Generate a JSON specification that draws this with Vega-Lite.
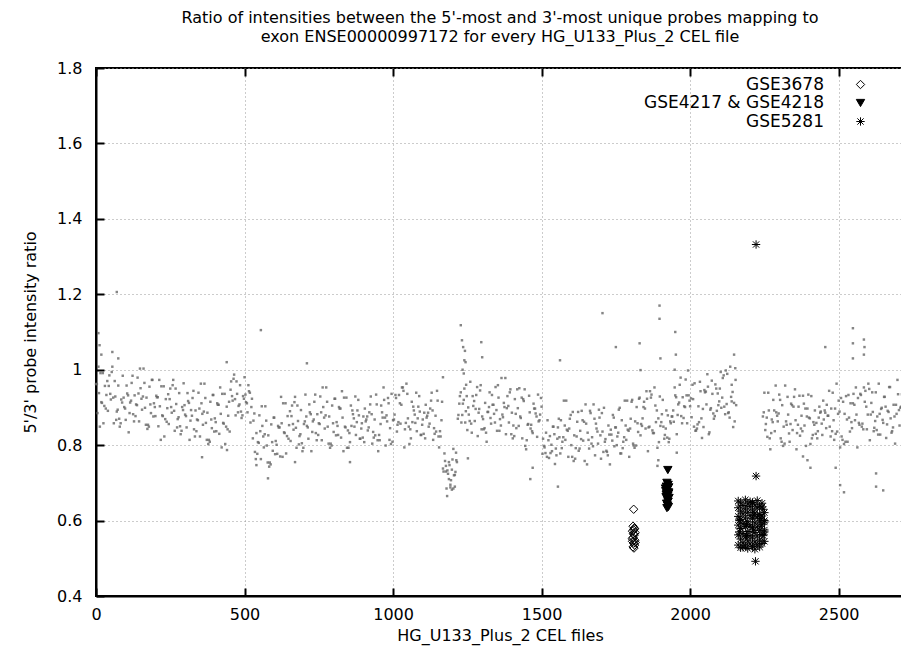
{
"$schema":"https://vega.github.io/schema/vega-lite/v6.json",
"width":808,"height":528,"autosize":"none",
"padding":{"left":96,"top":68,"right":0,"bottom":53},
"background":"white",
"title":{"text":["Ratio of intensities between the 5'-most and 3'-most unique probes mapping to","exon ENSE00000997172 for every HG_U133_Plus_2 CEL file"],"font":"DejaVu Sans","fontSize":16,"fontWeight":"normal","color":"black","anchor":"middle","offset":15,"lineHeight":19},
"datasets":{
"bg":[
{"x":0,"y":0.962},{"x":5,"y":0.885},{"x":10,"y":0.938},{"x":15,"y":0.991},{"x":20,"y":0.912},{"x":25,"y":0.858},{"x":30,"y":0.957},{"x":35,"y":0.933},{"x":40,"y":0.891},{"x":45,"y":0.985},{"x":50,"y":0.921},{"x":55,"y":1.008},
{"x":60,"y":0.858},{"x":65,"y":0.929},{"x":70,"y":0.889},{"x":75,"y":0.958},{"x":80,"y":0.849},{"x":85,"y":0.921},{"x":90,"y":0.984},{"x":95,"y":0.901},{"x":100,"y":0.867},{"x":105,"y":0.937},{"x":110,"y":0.834},{"x":115,"y":0.913},{"x":120,"y":0.965},{"x":125,"y":0.882},{"x":130,"y":0.932},{"x":135,"y":0.908},{"x":140,"y":0.979},{"x":145,"y":0.863},{"x":150,"y":0.951},{"x":155,"y":0.894},{"x":160,"y":1.003},{"x":165,"y":0.899},{"x":170,"y":0.926},{"x":175,"y":0.854},{"x":180,"y":0.955},{"x":185,"y":0.885},{"x":190,"y":0.973},{"x":195,"y":0.911},{"x":200,"y":0.877},
{"x":205,"y":0.927},{"x":210,"y":0.85},{"x":215,"y":0.903},{"x":220,"y":0.956},{"x":225,"y":0.877},{"x":230,"y":0.823},{"x":235,"y":0.922},{"x":240,"y":0.898},{"x":245,"y":0.856},{"x":250,"y":0.95},{"x":255,"y":0.886},{"x":260,"y":0.973},{"x":265,"y":0.838},{"x":270,"y":0.909},{"x":275,"y":0.869},{"x":280,"y":0.938},{"x":285,"y":0.829},{"x":290,"y":0.901},{"x":295,"y":0.964},{"x":300,"y":0.881},{"x":305,"y":0.847},{"x":310,"y":0.917},{"x":315,"y":0.814},{"x":320,"y":0.893},
{"x":325,"y":0.925},{"x":330,"y":0.842},{"x":335,"y":0.892},{"x":340,"y":0.868},{"x":345,"y":0.939},{"x":350,"y":0.823},{"x":355,"y":0.911},{"x":360,"y":0.854},{"x":365,"y":0.963},{"x":370,"y":0.859},{"x":375,"y":0.886},{"x":380,"y":0.814},{"x":385,"y":0.915},{"x":390,"y":0.845},{"x":395,"y":0.933},{"x":400,"y":0.871},{"x":405,"y":0.837},{"x":410,"y":0.907},{"x":415,"y":0.83},{"x":420,"y":0.883},{"x":425,"y":0.936},{"x":430,"y":0.857},{"x":435,"y":0.803},{"x":440,"y":0.902},{"x":445,"y":0.878},{"x":450,"y":0.836},
{"x":455,"y":0.969},{"x":460,"y":0.918},{"x":465,"y":0.987},{"x":470,"y":0.879},{"x":475,"y":0.936},{"x":480,"y":0.904},{"x":485,"y":0.959},{"x":490,"y":0.872},{"x":495,"y":0.93},{"x":500,"y":0.98},{"x":505,"y":0.914},{"x":510,"y":0.887},{"x":515,"y":0.943},{"x":520,"y":0.86},{"x":525,"y":0.923},
{"x":530,"y":0.865},{"x":535,"y":0.782},{"x":540,"y":0.832},{"x":545,"y":0.808},{"x":550,"y":0.879},{"x":555,"y":0.763},{"x":560,"y":0.851},{"x":565,"y":0.794},{"x":570,"y":0.903},{"x":575,"y":0.799},{"x":580,"y":0.826},{"x":585,"y":0.754},{"x":590,"y":0.855},{"x":595,"y":0.785},{"x":600,"y":0.873},{"x":605,"y":0.811},{"x":610,"y":0.777},{"x":615,"y":0.847},{"x":620,"y":0.77},
{"x":625,"y":0.858},{"x":630,"y":0.911},{"x":635,"y":0.832},{"x":640,"y":0.778},{"x":645,"y":0.877},{"x":650,"y":0.853},{"x":655,"y":0.811},{"x":660,"y":0.905},{"x":665,"y":0.841},{"x":670,"y":0.928},{"x":675,"y":0.793},{"x":680,"y":0.864},{"x":685,"y":0.824},{"x":690,"y":0.893},{"x":695,"y":0.784},{"x":700,"y":0.856},
{"x":705,"y":0.934},{"x":710,"y":0.851},{"x":715,"y":0.817},{"x":720,"y":0.887},{"x":725,"y":0.784},{"x":730,"y":0.863},{"x":735,"y":0.915},{"x":740,"y":0.832},{"x":745,"y":0.882},{"x":750,"y":0.858},{"x":755,"y":0.929},{"x":760,"y":0.813},{"x":765,"y":0.901},{"x":770,"y":0.844},{"x":775,"y":0.953},{"x":780,"y":0.849},{"x":785,"y":0.876},{"x":790,"y":0.804},{"x":795,"y":0.905},{"x":800,"y":0.835},{"x":805,"y":0.923},{"x":810,"y":0.861},{"x":815,"y":0.827},{"x":820,"y":0.897},{"x":825,"y":0.82},{"x":830,"y":0.873},{"x":835,"y":0.926},{"x":840,"y":0.847},{"x":845,"y":0.793},
{"x":850,"y":0.793},{"x":855,"y":0.808},{"x":860,"y":0.851},{"x":865,"y":0.882},{"x":870,"y":0.849},{"x":875,"y":0.827},{"x":880,"y":0.892},{"x":885,"y":0.879},{"x":890,"y":0.817},{"x":895,"y":0.858},{"x":900,"y":0.876},{"x":905,"y":0.897},{"x":910,"y":0.868},{"x":915,"y":0.839},{"x":920,"y":0.887},{"x":925,"y":0.929},{"x":930,"y":0.804},{"x":935,"y":0.82},{"x":940,"y":0.826},{"x":945,"y":0.908},{"x":950,"y":0.784},{"x":955,"y":0.813},{"x":960,"y":0.905},{"x":965,"y":0.873},{"x":970,"y":0.92},{"x":975,"y":0.799},{"x":980,"y":0.863},
{"x":985,"y":0.911},{"x":990,"y":0.845},{"x":995,"y":0.936},{"x":1000,"y":0.866},{"x":1005,"y":0.881},{"x":1010,"y":0.925},{"x":1015,"y":0.854},{"x":1020,"y":0.933},{"x":1025,"y":0.857},{"x":1030,"y":0.953},{"x":1035,"y":0.944},{"x":1040,"y":0.842},{"x":1045,"y":0.963},{"x":1050,"y":0.871},{"x":1055,"y":0.803},{"x":1060,"y":0.818},{"x":1065,"y":0.861},{"x":1070,"y":0.892},{"x":1075,"y":0.859},{"x":1080,"y":0.837},{"x":1085,"y":0.902},{"x":1090,"y":0.889},{"x":1095,"y":0.827},{"x":1100,"y":0.868},{"x":1105,"y":0.886},{"x":1110,"y":0.907},{"x":1115,"y":0.878},{"x":1120,"y":0.849},{"x":1125,"y":0.897},{"x":1130,"y":0.939},{"x":1135,"y":0.814},{"x":1140,"y":0.83},{"x":1145,"y":0.836},{"x":1150,"y":0.918},{"x":1155,"y":0.794},{"x":1160,"y":0.823},{"x":1165,"y":0.915},
{"x":1170,"y":0.73},{"x":1175,"y":0.758},{"x":1180,"y":0.685},{"x":1185,"y":0.724},{"x":1190,"y":0.747},{"x":1195,"y":0.707},{"x":1200,"y":0.762},{"x":1205,"y":0.72},{"x":1210,"y":0.729},{"x":1215,"y":0.755},{"x":1182,"y":0.665},{"x":1193,"y":0.695},{"x":1203,"y":0.79},{"x":1188,"y":0.71},{"x":1198,"y":0.735},{"x":1208,"y":0.69},{"x":1212,"y":0.78},{"x":1178,"y":0.745},
{"x":1220,"y":0.88},{"x":1225,"y":0.93},{"x":1230,"y":0.86},{"x":1235,"y":0.91},{"x":1240,"y":0.95},{"x":1245,"y":0.89},{"x":1250,"y":0.84},{"x":1228,"y":1.118},{"x":1232,"y":1.078},{"x":1236,"y":1.06},{"x":1240,"y":1.025},{"x":1244,"y":1.02},{"x":1238,"y":0.99},{"x":1246,"y":0.96},{"x":1252,"y":0.765},{"x":1300,"y":1.033},{"x":1297,"y":1.073},
{"x":1255,"y":0.881},{"x":1260,"y":0.968},{"x":1265,"y":0.833},{"x":1270,"y":0.904},{"x":1275,"y":0.864},{"x":1280,"y":0.933},{"x":1285,"y":0.824},{"x":1290,"y":0.896},{"x":1295,"y":0.959},{"x":1300,"y":0.876},{"x":1305,"y":0.842},{"x":1310,"y":0.912},{"x":1315,"y":0.809},{"x":1320,"y":0.888},{"x":1325,"y":0.94},{"x":1330,"y":0.857},{"x":1335,"y":0.907},{"x":1340,"y":0.883},{"x":1345,"y":0.954},{"x":1350,"y":0.838},{"x":1355,"y":0.926},{"x":1360,"y":0.869},{"x":1365,"y":0.978},{"x":1370,"y":0.874},{"x":1375,"y":0.901},{"x":1380,"y":0.829},{"x":1385,"y":0.93},{"x":1390,"y":0.86},{"x":1395,"y":0.948},{"x":1400,"y":0.886},{"x":1405,"y":0.852},{"x":1410,"y":0.922},{"x":1415,"y":0.845},{"x":1420,"y":0.898},{"x":1425,"y":0.951},{"x":1430,"y":0.872},{"x":1435,"y":0.818},{"x":1440,"y":0.917},
{"x":1445,"y":0.798},{"x":1450,"y":0.813},{"x":1455,"y":0.856},{"x":1460,"y":0.887},{"x":1465,"y":0.854},{"x":1470,"y":0.832},{"x":1475,"y":0.897},{"x":1480,"y":0.884},{"x":1485,"y":0.822},{"x":1490,"y":0.863},{"x":1495,"y":0.881},{"x":1500,"y":0.902},{"x":1462,"y":0.71},{"x":1470,"y":0.74},
{"x":1505,"y":0.817},{"x":1510,"y":0.794},{"x":1515,"y":0.833},{"x":1520,"y":0.866},{"x":1525,"y":0.766},{"x":1530,"y":0.779},{"x":1535,"y":0.784},{"x":1540,"y":0.849},{"x":1545,"y":0.75},{"x":1550,"y":0.773},{"x":1555,"y":0.847},{"x":1560,"y":0.821},
{"x":1565,"y":0.866},{"x":1570,"y":0.809},{"x":1575,"y":0.918},{"x":1580,"y":0.814},{"x":1585,"y":0.841},{"x":1590,"y":0.769},{"x":1595,"y":0.87},{"x":1600,"y":0.8},{"x":1605,"y":0.888},{"x":1610,"y":0.826},{"x":1615,"y":0.792},{"x":1620,"y":0.862},{"x":1625,"y":0.785},{"x":1630,"y":0.838},{"x":1635,"y":0.891},{"x":1640,"y":0.812},{"x":1645,"y":0.758},{"x":1650,"y":0.857},{"x":1655,"y":0.833},{"x":1660,"y":0.791},{"x":1665,"y":0.885},{"x":1670,"y":0.821},{"x":1675,"y":0.908},{"x":1680,"y":0.773},{"x":1685,"y":0.844},{"x":1690,"y":0.804},{"x":1695,"y":0.873},{"x":1700,"y":0.764},{"x":1705,"y":0.836},{"x":1710,"y":0.899},{"x":1715,"y":0.816},{"x":1720,"y":0.782},{"x":1725,"y":0.852},{"x":1730,"y":0.749},{"x":1735,"y":0.828},{"x":1740,"y":0.88},{"x":1745,"y":0.797},{"x":1750,"y":0.847},{"x":1755,"y":0.823},{"x":1760,"y":0.894},{"x":1765,"y":0.778},{"x":1770,"y":0.866},{"x":1775,"y":0.809},{"x":1780,"y":0.918},{"x":1785,"y":0.814},{"x":1790,"y":0.841},{"x":1795,"y":0.769},{"x":1800,"y":0.87},
{"x":1805,"y":0.92},{"x":1810,"y":0.799},{"x":1815,"y":0.863},{"x":1820,"y":0.901},{"x":1825,"y":0.835},{"x":1830,"y":0.926},{"x":1835,"y":0.856},{"x":1840,"y":0.871},{"x":1845,"y":0.915},{"x":1850,"y":0.844},{"x":1855,"y":0.923},{"x":1860,"y":0.847},{"x":1865,"y":0.943},{"x":1870,"y":0.934},{"x":1875,"y":0.832},{"x":1880,"y":0.953},{"x":1885,"y":0.861},{"x":1890,"y":0.793},{"x":1895,"y":0.808},{"x":1900,"y":0.851},{"x":1905,"y":0.882},{"x":1910,"y":0.849},{"x":1915,"y":0.827},{"x":1920,"y":0.892},{"x":1925,"y":0.879},{"x":1930,"y":0.817},{"x":1935,"y":0.858},{"x":1940,"y":0.876},
{"x":1830,"y":1.07},{"x":1897,"y":1.17},{"x":1897,"y":1.135},{"x":1900,"y":1.03},{"x":1833,"y":0.999},{"x":1890,"y":0.745},{"x":1893,"y":0.76},
{"x":1945,"y":0.862},{"x":1950,"y":0.932},{"x":1955,"y":0.829},{"x":1960,"y":0.908},{"x":1965,"y":0.96},{"x":1970,"y":0.877},{"x":1975,"y":0.927},{"x":1980,"y":0.903},{"x":1985,"y":0.974},{"x":1990,"y":0.858},{"x":1950,"y":1.1},{"x":1952,"y":1.04},{"x":1948,"y":1.0},{"x":1955,"y":0.78},
{"x":1995,"y":0.932},{"x":2000,"y":0.903},{"x":2005,"y":0.874},{"x":2010,"y":0.922},{"x":2015,"y":0.964},{"x":2020,"y":0.839},{"x":2025,"y":0.855},{"x":2030,"y":0.861},{"x":2035,"y":0.943},{"x":2040,"y":0.819},{"x":2045,"y":0.848},{"x":2050,"y":0.94},{"x":2055,"y":0.908},{"x":2060,"y":0.955},{"x":2065,"y":0.834},{"x":2070,"y":0.898},{"x":2075,"y":0.936},{"x":2080,"y":0.87},{"x":2085,"y":0.961},{"x":2090,"y":0.891},{"x":2095,"y":0.906},{"x":2100,"y":0.95},{"x":2105,"y":0.899},{"x":2110,"y":0.978},{"x":2115,"y":0.902},{"x":2120,"y":0.998},{"x":2125,"y":0.989},{"x":2130,"y":0.887},{"x":2135,"y":1.008},{"x":2140,"y":0.916},{"x":2145,"y":0.848},{"x":2150,"y":0.863},{"x":2155,"y":0.906},{"x":2148,"y":1.04},{"x":2152,"y":1.004},{"x":2140,"y":0.96},
{"x":2245,"y":0.876},{"x":2250,"y":0.939},{"x":2255,"y":0.856},{"x":2260,"y":0.822},{"x":2265,"y":0.892},{"x":2270,"y":0.789},{"x":2275,"y":0.868},{"x":2280,"y":0.92},{"x":2285,"y":0.837},{"x":2290,"y":0.887},{"x":2295,"y":0.863},{"x":2300,"y":0.934},{"x":2305,"y":0.818},{"x":2310,"y":0.906},{"x":2315,"y":0.849},{"x":2320,"y":0.958},{"x":2325,"y":0.854},{"x":2330,"y":0.881},{"x":2335,"y":0.809},{"x":2340,"y":0.91},{"x":2345,"y":0.84},{"x":2350,"y":0.928},{"x":2355,"y":0.866},{"x":2360,"y":0.832},{"x":2365,"y":0.902},{"x":2370,"y":0.825},{"x":2375,"y":0.878},{"x":2380,"y":0.931},{"x":2385,"y":0.852},{"x":2390,"y":0.798},{"x":2395,"y":0.897},{"x":2400,"y":0.873},{"x":2405,"y":0.74},{"x":2395,"y":0.76},{"x":2380,"y":0.77},
{"x":2405,"y":0.803},{"x":2410,"y":0.818},{"x":2415,"y":0.861},{"x":2420,"y":0.892},{"x":2425,"y":0.859},{"x":2430,"y":0.837},{"x":2435,"y":0.902},{"x":2440,"y":0.889},{"x":2445,"y":0.827},{"x":2450,"y":0.868},{"x":2455,"y":0.886},{"x":2460,"y":0.907},{"x":2465,"y":0.878},{"x":2470,"y":0.849},{"x":2475,"y":0.897},{"x":2480,"y":0.939},{"x":2485,"y":0.814},{"x":2490,"y":0.83},{"x":2495,"y":0.836},{"x":2500,"y":0.918},{"x":2505,"y":0.794},{"x":2510,"y":0.823},{"x":2515,"y":0.915},{"x":2520,"y":0.883},{"x":2525,"y":0.93},{"x":2530,"y":0.809},{"x":2535,"y":0.873},{"x":2540,"y":0.911},{"x":2545,"y":0.845},{"x":2550,"y":0.936},{"x":2555,"y":0.866},{"x":2560,"y":0.881},{"x":2565,"y":0.925},{"x":2570,"y":0.854},{"x":2575,"y":0.933},{"x":2580,"y":0.857},{"x":2585,"y":0.953},{"x":2590,"y":0.944},{"x":2595,"y":0.842},{"x":2600,"y":0.963},
{"x":2455,"y":1.06},{"x":2505,"y":0.694},{"x":2518,"y":0.675},{"x":2490,"y":0.74},{"x":2548,"y":1.11},{"x":2548,"y":1.03},{"x":2548,"y":1.07},{"x":2585,"y":1.08},{"x":2585,"y":1.04},{"x":2587,"y":1.06},{"x":2626,"y":0.725},{"x":2626,"y":0.69},{"x":2650,"y":0.68},
{"x":2605,"y":0.813},{"x":2610,"y":0.912},{"x":2615,"y":0.888},{"x":2620,"y":0.846},{"x":2625,"y":0.94},{"x":2630,"y":0.876},{"x":2635,"y":0.963},{"x":2640,"y":0.828},{"x":2645,"y":0.899},{"x":2650,"y":0.859},{"x":2655,"y":0.928},{"x":2660,"y":0.819},{"x":2665,"y":0.891},{"x":2670,"y":0.954},{"x":2675,"y":0.871},{"x":2680,"y":0.837},{"x":2685,"y":0.907},{"x":2690,"y":0.804},{"x":2695,"y":0.883},{"x":2700,"y":0.935},{"x":2705,"y":0.852},{"x":2710,"y":0.902},{"x":2715,"y":0.878},
{"x":8,"y":1.097},{"x":12,"y":1.065},{"x":18,"y":1.04},{"x":55,"y":1.047},{"x":70,"y":1.206},{"x":75,"y":1.03},{"x":440,"y":1.02},{"x":555,"y":1.105},{"x":540,"y":0.747},{"x":579,"y":0.712},{"x":710,"y":1.017},{"x":670,"y":0.755},{"x":855,"y":0.755},{"x":357,"y":0.768},{"x":441,"y":0.787},{"x":1168,"y":0.98},{"x":1562,"y":1.025},{"x":1705,"y":1.15},{"x":1750,"y":1.06},{"x":1555,"y":0.69},
{"x":3,"y":0.962},{"x":8,"y":1.008},{"x":13,"y":0.849},{"x":18,"y":0.914},{"x":23,"y":0.991},{"x":28,"y":0.904},{"x":33,"y":0.897},{"x":38,"y":0.97},{"x":43,"y":0.957},{"x":48,"y":0.936},{"x":53,"y":0.994},{"x":58,"y":0.926},
{"x":63,"y":0.97},{"x":68,"y":0.867},{"x":73,"y":0.894},{"x":78,"y":0.87},{"x":83,"y":0.858},{"x":88,"y":0.913},{"x":93,"y":0.926},{"x":98,"y":0.897},{"x":103,"y":0.958},{"x":108,"y":0.932},{"x":113,"y":0.885},{"x":118,"y":0.918},{"x":123,"y":0.984},{"x":128,"y":0.863},{"x":133,"y":0.877},{"x":138,"y":0.906},{"x":143,"y":0.937},{"x":148,"y":1.003},{"x":153,"y":0.923},{"x":158,"y":0.929},{"x":163,"y":0.965},{"x":168,"y":0.854},{"x":173,"y":0.843},{"x":178,"y":0.849},{"x":183,"y":0.908},{"x":188,"y":0.973},{"x":193,"y":0.876},{"x":198,"y":0.901},
{"x":203,"y":0.931},{"x":208,"y":0.927},{"x":213,"y":0.973},{"x":218,"y":0.814},{"x":223,"y":0.879},{"x":228,"y":0.956},{"x":233,"y":0.869},{"x":238,"y":0.862},{"x":243,"y":0.935},{"x":248,"y":0.922},{"x":253,"y":0.901},{"x":258,"y":0.959},{"x":263,"y":0.891},{"x":268,"y":0.95},{"x":273,"y":0.847},{"x":278,"y":0.874},{"x":283,"y":0.85},{"x":288,"y":0.838},{"x":293,"y":0.893},{"x":298,"y":0.906},{"x":303,"y":0.877},{"x":308,"y":0.938},{"x":313,"y":0.912},{"x":318,"y":0.865},
{"x":323,"y":0.878},{"x":328,"y":0.944},{"x":333,"y":0.823},{"x":338,"y":0.837},{"x":343,"y":0.866},{"x":348,"y":0.897},{"x":353,"y":0.963},{"x":358,"y":0.883},{"x":363,"y":0.889},{"x":368,"y":0.925},{"x":373,"y":0.814},{"x":378,"y":0.803},{"x":383,"y":0.809},{"x":388,"y":0.868},{"x":393,"y":0.933},{"x":398,"y":0.836},{"x":403,"y":0.861},{"x":408,"y":0.911},{"x":413,"y":0.907},{"x":418,"y":0.953},{"x":423,"y":0.794},{"x":428,"y":0.859},{"x":433,"y":0.936},{"x":438,"y":0.849},{"x":443,"y":0.842},{"x":448,"y":0.915},
{"x":453,"y":0.947},{"x":458,"y":0.93},{"x":463,"y":0.976},{"x":468,"y":0.922},{"x":473,"y":0.969},{"x":478,"y":0.887},{"x":483,"y":0.908},{"x":488,"y":0.889},{"x":493,"y":0.879},{"x":498,"y":0.923},{"x":503,"y":0.934},{"x":508,"y":0.911},{"x":513,"y":0.959},{"x":518,"y":0.939},{"x":523,"y":0.901},
{"x":528,"y":0.818},{"x":533,"y":0.884},{"x":538,"y":0.763},{"x":543,"y":0.777},{"x":548,"y":0.806},{"x":553,"y":0.837},{"x":558,"y":0.903},{"x":563,"y":0.823},{"x":568,"y":0.829},{"x":573,"y":0.865},{"x":578,"y":0.754},{"x":583,"y":0.743},{"x":588,"y":0.749},{"x":593,"y":0.808},{"x":598,"y":0.873},{"x":603,"y":0.776},{"x":608,"y":0.801},{"x":613,"y":0.851},{"x":618,"y":0.847},
{"x":623,"y":0.928},{"x":628,"y":0.769},{"x":633,"y":0.834},{"x":638,"y":0.911},{"x":643,"y":0.824},{"x":648,"y":0.817},{"x":653,"y":0.89},{"x":658,"y":0.877},{"x":663,"y":0.856},{"x":668,"y":0.914},{"x":673,"y":0.846},{"x":678,"y":0.905},{"x":683,"y":0.802},{"x":688,"y":0.829},{"x":693,"y":0.805},{"x":698,"y":0.793},
{"x":703,"y":0.863},{"x":708,"y":0.876},{"x":713,"y":0.847},{"x":718,"y":0.908},{"x":723,"y":0.882},{"x":728,"y":0.835},{"x":733,"y":0.868},{"x":738,"y":0.934},{"x":743,"y":0.813},{"x":748,"y":0.827},{"x":753,"y":0.856},{"x":758,"y":0.887},{"x":763,"y":0.953},{"x":768,"y":0.873},{"x":773,"y":0.879},{"x":778,"y":0.915},{"x":783,"y":0.804},{"x":788,"y":0.793},{"x":793,"y":0.799},{"x":798,"y":0.858},{"x":803,"y":0.923},{"x":808,"y":0.826},{"x":813,"y":0.851},{"x":818,"y":0.901},
{"x":823,"y":0.897},{"x":828,"y":0.943},{"x":833,"y":0.784},{"x":838,"y":0.849},{"x":843,"y":0.926},{"x":848,"y":0.839},{"x":853,"y":0.832},{"x":858,"y":0.905},{"x":863,"y":0.892},{"x":868,"y":0.871},{"x":873,"y":0.929},{"x":878,"y":0.861},{"x":883,"y":0.92},{"x":888,"y":0.817},{"x":893,"y":0.844},{"x":898,"y":0.82},{"x":903,"y":0.808},{"x":908,"y":0.863},{"x":913,"y":0.876},{"x":918,"y":0.847},{"x":923,"y":0.908},{"x":928,"y":0.882},{"x":933,"y":0.835},{"x":938,"y":0.868},{"x":943,"y":0.934},{"x":948,"y":0.813},{"x":953,"y":0.827},{"x":958,"y":0.856},{"x":963,"y":0.887},{"x":968,"y":0.953},{"x":973,"y":0.873},{"x":978,"y":0.879},
{"x":983,"y":0.925},{"x":988,"y":0.814},{"x":993,"y":0.803},{"x":998,"y":0.809},{"x":1003,"y":0.868},{"x":1008,"y":0.933},{"x":1013,"y":0.836},{"x":1018,"y":0.861},{"x":1023,"y":0.911},{"x":1028,"y":0.907},{"x":1033,"y":0.953},{"x":1038,"y":0.794},{"x":1043,"y":0.859},{"x":1048,"y":0.936},{"x":1053,"y":0.849},{"x":1058,"y":0.842},{"x":1063,"y":0.915},{"x":1068,"y":0.902},{"x":1073,"y":0.881},{"x":1078,"y":0.939},{"x":1083,"y":0.871},{"x":1088,"y":0.93},{"x":1093,"y":0.827},{"x":1098,"y":0.854},{"x":1103,"y":0.83},{"x":1108,"y":0.818},{"x":1113,"y":0.873},{"x":1118,"y":0.886},{"x":1123,"y":0.857},{"x":1128,"y":0.918},{"x":1133,"y":0.892},{"x":1138,"y":0.845},{"x":1143,"y":0.878},{"x":1148,"y":0.944},{"x":1153,"y":0.823},{"x":1158,"y":0.837},{"x":1163,"y":0.866},
{"x":1168,"y":0.738},{"x":1173,"y":0.778},{"x":1178,"y":0.73},{"x":1183,"y":0.733},{"x":1188,"y":0.755},{"x":1193,"y":0.688},{"x":1198,"y":0.682},{"x":1203,"y":0.685},{"x":1208,"y":0.721},{"x":1213,"y":0.76},
{"x":1218,"y":0.87},{"x":1223,"y":0.91},{"x":1228,"y":0.94},{"x":1233,"y":0.88},{"x":1238,"y":0.92},{"x":1243,"y":0.86},{"x":1248,"y":0.93},{"x":1253,"y":0.9},{"x":1234,"y":1.0},{"x":1242,"y":1.05},
{"x":1258,"y":0.864},{"x":1263,"y":0.857},{"x":1268,"y":0.93},{"x":1273,"y":0.917},{"x":1278,"y":0.896},{"x":1283,"y":0.954},{"x":1288,"y":0.886},{"x":1293,"y":0.945},{"x":1298,"y":0.842},{"x":1303,"y":0.869},{"x":1308,"y":0.845},{"x":1313,"y":0.833},{"x":1318,"y":0.888},{"x":1323,"y":0.901},{"x":1328,"y":0.872},{"x":1333,"y":0.933},{"x":1338,"y":0.907},{"x":1343,"y":0.86},{"x":1348,"y":0.893},{"x":1353,"y":0.959},{"x":1358,"y":0.838},{"x":1363,"y":0.852},{"x":1368,"y":0.881},{"x":1373,"y":0.912},{"x":1378,"y":0.978},{"x":1383,"y":0.898},{"x":1388,"y":0.904},{"x":1393,"y":0.94},{"x":1398,"y":0.829},{"x":1403,"y":0.818},{"x":1408,"y":0.824},{"x":1413,"y":0.883},{"x":1418,"y":0.948},{"x":1423,"y":0.851},{"x":1428,"y":0.876},{"x":1433,"y":0.926},{"x":1438,"y":0.922},
{"x":1443,"y":0.948},{"x":1448,"y":0.789},{"x":1453,"y":0.854},{"x":1458,"y":0.931},{"x":1463,"y":0.844},{"x":1468,"y":0.837},{"x":1473,"y":0.91},{"x":1478,"y":0.897},{"x":1483,"y":0.876},{"x":1488,"y":0.934},{"x":1493,"y":0.866},{"x":1498,"y":0.925},
{"x":1503,"y":0.777},{"x":1508,"y":0.798},{"x":1513,"y":0.779},{"x":1518,"y":0.769},{"x":1523,"y":0.813},{"x":1528,"y":0.824},{"x":1533,"y":0.801},{"x":1538,"y":0.849},{"x":1543,"y":0.829},{"x":1548,"y":0.791},{"x":1553,"y":0.817},{"x":1558,"y":0.87},
{"x":1563,"y":0.778},{"x":1568,"y":0.792},{"x":1573,"y":0.821},{"x":1578,"y":0.852},{"x":1583,"y":0.918},{"x":1588,"y":0.838},{"x":1593,"y":0.844},{"x":1598,"y":0.88},{"x":1603,"y":0.769},{"x":1608,"y":0.758},{"x":1613,"y":0.764},{"x":1618,"y":0.823},{"x":1623,"y":0.888},{"x":1628,"y":0.791},{"x":1633,"y":0.816},{"x":1638,"y":0.866},{"x":1643,"y":0.862},{"x":1648,"y":0.908},{"x":1653,"y":0.749},{"x":1658,"y":0.814},{"x":1663,"y":0.891},{"x":1668,"y":0.804},{"x":1673,"y":0.797},{"x":1678,"y":0.87},{"x":1683,"y":0.857},{"x":1688,"y":0.836},{"x":1693,"y":0.894},{"x":1698,"y":0.826},{"x":1703,"y":0.885},{"x":1708,"y":0.782},{"x":1713,"y":0.809},{"x":1718,"y":0.785},{"x":1723,"y":0.773},{"x":1728,"y":0.828},{"x":1733,"y":0.841},{"x":1738,"y":0.812},{"x":1743,"y":0.873},{"x":1748,"y":0.847},{"x":1753,"y":0.8},{"x":1758,"y":0.833},{"x":1763,"y":0.899},{"x":1768,"y":0.778},{"x":1773,"y":0.792},{"x":1778,"y":0.821},{"x":1783,"y":0.852},{"x":1788,"y":0.918},{"x":1793,"y":0.838},{"x":1798,"y":0.844},
{"x":1803,"y":0.915},{"x":1808,"y":0.804},{"x":1813,"y":0.793},{"x":1818,"y":0.799},{"x":1823,"y":0.858},{"x":1828,"y":0.923},{"x":1833,"y":0.826},{"x":1838,"y":0.851},{"x":1843,"y":0.901},{"x":1848,"y":0.897},{"x":1853,"y":0.943},{"x":1858,"y":0.784},{"x":1863,"y":0.849},{"x":1868,"y":0.926},{"x":1873,"y":0.839},{"x":1878,"y":0.832},{"x":1883,"y":0.905},{"x":1888,"y":0.892},{"x":1893,"y":0.871},{"x":1898,"y":0.929},{"x":1903,"y":0.861},{"x":1908,"y":0.92},{"x":1913,"y":0.817},{"x":1918,"y":0.844},{"x":1923,"y":0.82},{"x":1928,"y":0.808},{"x":1933,"y":0.863},{"x":1938,"y":0.876},
{"x":1943,"y":0.892},{"x":1948,"y":0.953},{"x":1953,"y":0.927},{"x":1958,"y":0.88},{"x":1963,"y":0.913},{"x":1968,"y":0.979},{"x":1973,"y":0.858},{"x":1978,"y":0.872},{"x":1983,"y":0.901},{"x":1988,"y":0.932},
{"x":1993,"y":0.998},{"x":1998,"y":0.918},{"x":2003,"y":0.924},{"x":2008,"y":0.96},{"x":2013,"y":0.849},{"x":2018,"y":0.838},{"x":2023,"y":0.844},{"x":2028,"y":0.903},{"x":2033,"y":0.968},{"x":2038,"y":0.871},{"x":2043,"y":0.896},{"x":2048,"y":0.946},{"x":2053,"y":0.942},{"x":2058,"y":0.988},{"x":2063,"y":0.829},{"x":2068,"y":0.894},{"x":2073,"y":0.971},{"x":2078,"y":0.884},{"x":2083,"y":0.877},{"x":2088,"y":0.95},{"x":2093,"y":0.937},{"x":2098,"y":0.916},{"x":2103,"y":0.994},{"x":2108,"y":0.926},{"x":2113,"y":0.985},{"x":2118,"y":0.882},{"x":2123,"y":0.909},{"x":2128,"y":0.885},{"x":2133,"y":0.873},{"x":2138,"y":0.928},{"x":2143,"y":0.941},{"x":2148,"y":0.912},{"x":2153,"y":0.973},
{"x":2248,"y":0.887},{"x":2253,"y":0.84},{"x":2258,"y":0.873},{"x":2263,"y":0.939},{"x":2268,"y":0.818},{"x":2273,"y":0.832},{"x":2278,"y":0.861},{"x":2283,"y":0.892},{"x":2288,"y":0.958},{"x":2293,"y":0.878},{"x":2298,"y":0.884},{"x":2303,"y":0.92},{"x":2308,"y":0.809},{"x":2313,"y":0.798},{"x":2318,"y":0.804},{"x":2323,"y":0.863},{"x":2328,"y":0.928},{"x":2333,"y":0.831},{"x":2338,"y":0.856},{"x":2343,"y":0.906},{"x":2348,"y":0.902},{"x":2353,"y":0.948},{"x":2358,"y":0.789},{"x":2363,"y":0.854},{"x":2368,"y":0.931},{"x":2373,"y":0.844},{"x":2378,"y":0.837},{"x":2383,"y":0.91},{"x":2388,"y":0.897},{"x":2393,"y":0.876},{"x":2398,"y":0.934},
{"x":2403,"y":0.871},{"x":2408,"y":0.93},{"x":2413,"y":0.827},{"x":2418,"y":0.854},{"x":2423,"y":0.83},{"x":2428,"y":0.818},{"x":2433,"y":0.873},{"x":2438,"y":0.886},{"x":2443,"y":0.857},{"x":2448,"y":0.918},{"x":2453,"y":0.892},{"x":2458,"y":0.845},{"x":2463,"y":0.878},{"x":2468,"y":0.944},{"x":2473,"y":0.823},{"x":2478,"y":0.837},{"x":2483,"y":0.866},{"x":2488,"y":0.897},{"x":2493,"y":0.963},{"x":2498,"y":0.883},{"x":2503,"y":0.889},{"x":2508,"y":0.925},{"x":2513,"y":0.814},{"x":2518,"y":0.803},{"x":2523,"y":0.809},{"x":2528,"y":0.868},{"x":2533,"y":0.933},{"x":2538,"y":0.836},{"x":2543,"y":0.861},{"x":2548,"y":0.911},{"x":2553,"y":0.907},{"x":2558,"y":0.953},{"x":2563,"y":0.794},{"x":2568,"y":0.859},{"x":2573,"y":0.936},{"x":2578,"y":0.849},{"x":2583,"y":0.842},{"x":2588,"y":0.915},{"x":2593,"y":0.902},{"x":2598,"y":0.881},
{"x":2603,"y":0.949},{"x":2608,"y":0.881},{"x":2613,"y":0.94},{"x":2618,"y":0.837},{"x":2623,"y":0.864},{"x":2628,"y":0.84},{"x":2633,"y":0.828},{"x":2638,"y":0.883},{"x":2643,"y":0.896},{"x":2648,"y":0.867},{"x":2653,"y":0.928},{"x":2658,"y":0.902},{"x":2663,"y":0.855},{"x":2668,"y":0.888},{"x":2673,"y":0.954},{"x":2678,"y":0.833},{"x":2683,"y":0.847},{"x":2688,"y":0.876},{"x":2693,"y":0.907},{"x":2698,"y":0.973},{"x":2703,"y":0.893},{"x":2708,"y":0.899},{"x":2713,"y":0.935}
],
"hl":[
{"x":1810,"y":0.63,"s":"GSE3678"},{"x":1808,"y":0.585,"s":"GSE3678"},{"x":1813,"y":0.578,"s":"GSE3678"},{"x":1806,"y":0.572,"s":"GSE3678"},{"x":1815,"y":0.568,"s":"GSE3678"},{"x":1810,"y":0.575,"s":"GSE3678"},{"x":1812,"y":0.562,"s":"GSE3678"},{"x":1808,"y":0.555,"s":"GSE3678"},{"x":1814,"y":0.548,"s":"GSE3678"},{"x":1806,"y":0.545,"s":"GSE3678"},{"x":1810,"y":0.54,"s":"GSE3678"},{"x":1813,"y":0.535,"s":"GSE3678"},{"x":1808,"y":0.53,"s":"GSE3678"},{"x":1811,"y":0.527,"s":"GSE3678"},{"x":1815,"y":0.542,"s":"GSE3678"},{"x":1805,"y":0.552,"s":"GSE3678"},{"x":1812,"y":0.58,"s":"GSE3678"},{"x":1809,"y":0.565,"s":"GSE3678"},
{"x":1925,"y":0.734,"s":"GSE4217 & GSE4218"},{"x":1922,"y":0.7,"s":"GSE4217 & GSE4218"},{"x":1926,"y":0.695,"s":"GSE4217 & GSE4218"},{"x":1920,"y":0.69,"s":"GSE4217 & GSE4218"},{"x":1928,"y":0.688,"s":"GSE4217 & GSE4218"},{"x":1923,"y":0.682,"s":"GSE4217 & GSE4218"},{"x":1918,"y":0.678,"s":"GSE4217 & GSE4218"},{"x":1927,"y":0.675,"s":"GSE4217 & GSE4218"},{"x":1921,"y":0.67,"s":"GSE4217 & GSE4218"},{"x":1925,"y":0.666,"s":"GSE4217 & GSE4218"},{"x":1919,"y":0.662,"s":"GSE4217 & GSE4218"},{"x":1929,"y":0.66,"s":"GSE4217 & GSE4218"},{"x":1923,"y":0.656,"s":"GSE4217 & GSE4218"},{"x":1926,"y":0.65,"s":"GSE4217 & GSE4218"},{"x":1921,"y":0.645,"s":"GSE4217 & GSE4218"},{"x":1924,"y":0.64,"s":"GSE4217 & GSE4218"},{"x":1927,"y":0.636,"s":"GSE4217 & GSE4218"},{"x":1922,"y":0.633,"s":"GSE4217 & GSE4218"},{"x":1920,"y":0.668,"s":"GSE4217 & GSE4218"},{"x":1928,"y":0.672,"s":"GSE4217 & GSE4218"},{"x":1917,"y":0.685,"s":"GSE4217 & GSE4218"},
{"x":2162,"y":0.535,"s":"GSE5281"},{"x":2162,"y":0.562,"s":"GSE5281"},{"x":2162,"y":0.588,"s":"GSE5281"},{"x":2162,"y":0.611,"s":"GSE5281"},{"x":2162,"y":0.634,"s":"GSE5281"},{"x":2162,"y":0.652,"s":"GSE5281"},
{"x":2170,"y":0.528,"s":"GSE5281"},{"x":2170,"y":0.551,"s":"GSE5281"},{"x":2170,"y":0.579,"s":"GSE5281"},{"x":2170,"y":0.603,"s":"GSE5281"},{"x":2170,"y":0.625,"s":"GSE5281"},{"x":2170,"y":0.647,"s":"GSE5281"},
{"x":2178,"y":0.541,"s":"GSE5281"},{"x":2178,"y":0.566,"s":"GSE5281"},{"x":2178,"y":0.592,"s":"GSE5281"},{"x":2178,"y":0.618,"s":"GSE5281"},{"x":2178,"y":0.64,"s":"GSE5281"},{"x":2178,"y":0.529,"s":"GSE5281"},
{"x":2186,"y":0.533,"s":"GSE5281"},{"x":2186,"y":0.557,"s":"GSE5281"},{"x":2186,"y":0.584,"s":"GSE5281"},{"x":2186,"y":0.607,"s":"GSE5281"},{"x":2186,"y":0.631,"s":"GSE5281"},{"x":2186,"y":0.655,"s":"GSE5281"},
{"x":2194,"y":0.546,"s":"GSE5281"},{"x":2194,"y":0.571,"s":"GSE5281"},{"x":2194,"y":0.597,"s":"GSE5281"},{"x":2194,"y":0.622,"s":"GSE5281"},{"x":2194,"y":0.644,"s":"GSE5281"},{"x":2194,"y":0.526,"s":"GSE5281"},
{"x":2202,"y":0.538,"s":"GSE5281"},{"x":2202,"y":0.56,"s":"GSE5281"},{"x":2202,"y":0.586,"s":"GSE5281"},{"x":2202,"y":0.613,"s":"GSE5281"},{"x":2202,"y":0.637,"s":"GSE5281"},{"x":2202,"y":0.65,"s":"GSE5281"},
{"x":2210,"y":0.531,"s":"GSE5281"},{"x":2210,"y":0.554,"s":"GSE5281"},{"x":2210,"y":0.581,"s":"GSE5281"},{"x":2210,"y":0.605,"s":"GSE5281"},{"x":2210,"y":0.628,"s":"GSE5281"},{"x":2210,"y":0.648,"s":"GSE5281"},
{"x":2218,"y":0.543,"s":"GSE5281"},{"x":2218,"y":0.568,"s":"GSE5281"},{"x":2218,"y":0.594,"s":"GSE5281"},{"x":2218,"y":0.62,"s":"GSE5281"},{"x":2218,"y":0.642,"s":"GSE5281"},{"x":2218,"y":0.524,"s":"GSE5281"},
{"x":2226,"y":0.536,"s":"GSE5281"},{"x":2226,"y":0.559,"s":"GSE5281"},{"x":2226,"y":0.583,"s":"GSE5281"},{"x":2226,"y":0.609,"s":"GSE5281"},{"x":2226,"y":0.633,"s":"GSE5281"},{"x":2226,"y":0.653,"s":"GSE5281"},
{"x":2234,"y":0.548,"s":"GSE5281"},{"x":2234,"y":0.574,"s":"GSE5281"},{"x":2234,"y":0.599,"s":"GSE5281"},{"x":2234,"y":0.616,"s":"GSE5281"},{"x":2234,"y":0.638,"s":"GSE5281"},{"x":2234,"y":0.53,"s":"GSE5281"},
{"x":2242,"y":0.539,"s":"GSE5281"},{"x":2242,"y":0.563,"s":"GSE5281"},{"x":2242,"y":0.589,"s":"GSE5281"},{"x":2242,"y":0.612,"s":"GSE5281"},{"x":2242,"y":0.636,"s":"GSE5281"},{"x":2242,"y":0.646,"s":"GSE5281"},
{"x":2250,"y":0.545,"s":"GSE5281"},{"x":2250,"y":0.57,"s":"GSE5281"},{"x":2250,"y":0.596,"s":"GSE5281"},{"x":2250,"y":0.621,"s":"GSE5281"},{"x":2250,"y":0.6,"s":"GSE5281"},{"x":2250,"y":0.575,"s":"GSE5281"},
{"x":2166,"y":0.57,"s":"GSE5281"},{"x":2166,"y":0.6,"s":"GSE5281"},{"x":2190,"y":0.59,"s":"GSE5281"},{"x":2190,"y":0.56,"s":"GSE5281"},{"x":2214,"y":0.575,"s":"GSE5281"},{"x":2214,"y":0.615,"s":"GSE5281"},{"x":2238,"y":0.585,"s":"GSE5281"},{"x":2238,"y":0.605,"s":"GSE5281"},{"x":2246,"y":0.56,"s":"GSE5281"},{"x":2246,"y":0.63,"s":"GSE5281"},
{"x":2222,"y":1.332,"s":"GSE5281"},{"x":2222,"y":0.718,"s":"GSE5281"},{"x":2220,"y":0.492,"s":"GSE5281"}
]
},
"resolve":{"axis":{"x":"independent","y":"independent"}},
"layer":[
{"data":{"name":"bg"},
 "mark":{"type":"square","size":6,"color":"#666","opacity":0.8},
 "encoding":{
  "x":{"field":"x","type":"quantitative","scale":{"domain":[0,2720],"nice":false,"zero":false},
       "axis":{"orient":"bottom","values":[0,500,1000,1500,2000,2500],"format":"d","ticks":false,"labelPadding":10,"title":"HG_U133_Plus_2 CEL files","titlePadding":5,"grid":true}},
  "y":{"field":"y","type":"quantitative","scale":{"domain":[0.4,1.8],"nice":false,"zero":false},
       "axis":{"orient":"left","values":[0.4,0.6,0.8,1,1.2,1.4,1.6,1.8],"format":"~g","ticks":false,"labelPadding":14,"title":"5'/3' probe intensity ratio","titlePadding":18,"grid":true}}
 }},
{"data":{"name":"hl"},
 "mark":{"type":"point","filled":true,"stroke":"black","strokeWidth":1,"opacity":1,"size":70},
 "encoding":{
  "x":{"field":"x","type":"quantitative","axis":{"orient":"top","offset":-528,"labels":false,"title":null,"grid":false,"domain":false,"values":[0,500,1000,1500,2000,2500]}},
  "y":{"field":"y","type":"quantitative","axis":{"orient":"right","offset":-808,"labels":false,"title":null,"grid":false,"domain":false,"values":[0.4,0.6,0.8,1,1.2,1.4,1.6,1.8]}},
  "shape":{"field":"s","type":"nominal","scale":{"domain":["GSE3678","GSE4217 & GSE4218","GSE5281"],"range":["diamond","triangle-down","M-1,0L1,0M0,-1L0,1M-0.75,-0.75L0.75,0.75M-0.75,0.75L0.75,-0.75"]},"legend":{"title":null}},
  "fill":{"field":"s","type":"nominal","scale":{"domain":["GSE3678","GSE4217 & GSE4218","GSE5281"],"range":["transparent","black","transparent"]},"legend":{"title":null}},
  "stroke":{"field":"s","type":"nominal","scale":{"domain":["GSE3678","GSE4217 & GSE4218","GSE5281"],"range":["black","black","black"]},"legend":{"title":null}}
 }},
{"data":{"name":"hl"},
 "mark":{"type":"point","opacity":0,"size":1},
 "encoding":{
  "x":{"field":"x","type":"quantitative","axis":{"orient":"bottom","offset":-528,"labels":false,"title":null,"grid":false,"domain":false,"values":[0,500,1000,1500,2000,2500]}},
  "y":{"field":"y","type":"quantitative","axis":null}
 }}
],
"config":{
 "view":{"stroke":"black","strokeWidth":2},
 "axis":{"labelFont":"DejaVu Sans","labelFontSize":16,"labelColor":"black","labelFlush":false,"titleFont":"DejaVu Sans","titleFontSize":16,"titleFontWeight":"normal","titleColor":"black","domainColor":"black","domainWidth":2,"tickColor":"black","tickWidth":2,"tickSize":8,"gridColor":"#999","gridDash":[1,3],"gridWidth":1,"gridOpacity":1},
 "legend":{"orient":"none","legendX":756,"legendY":8,"labelAlign":"right","labelOffset":-45,"labelLimit":0,"labelFont":"DejaVu Sans","labelFontSize":17,"labelColor":"black","rowPadding":0.5,"padding":0,"symbolStrokeWidth":1,"symbolSize":70}
}
}
